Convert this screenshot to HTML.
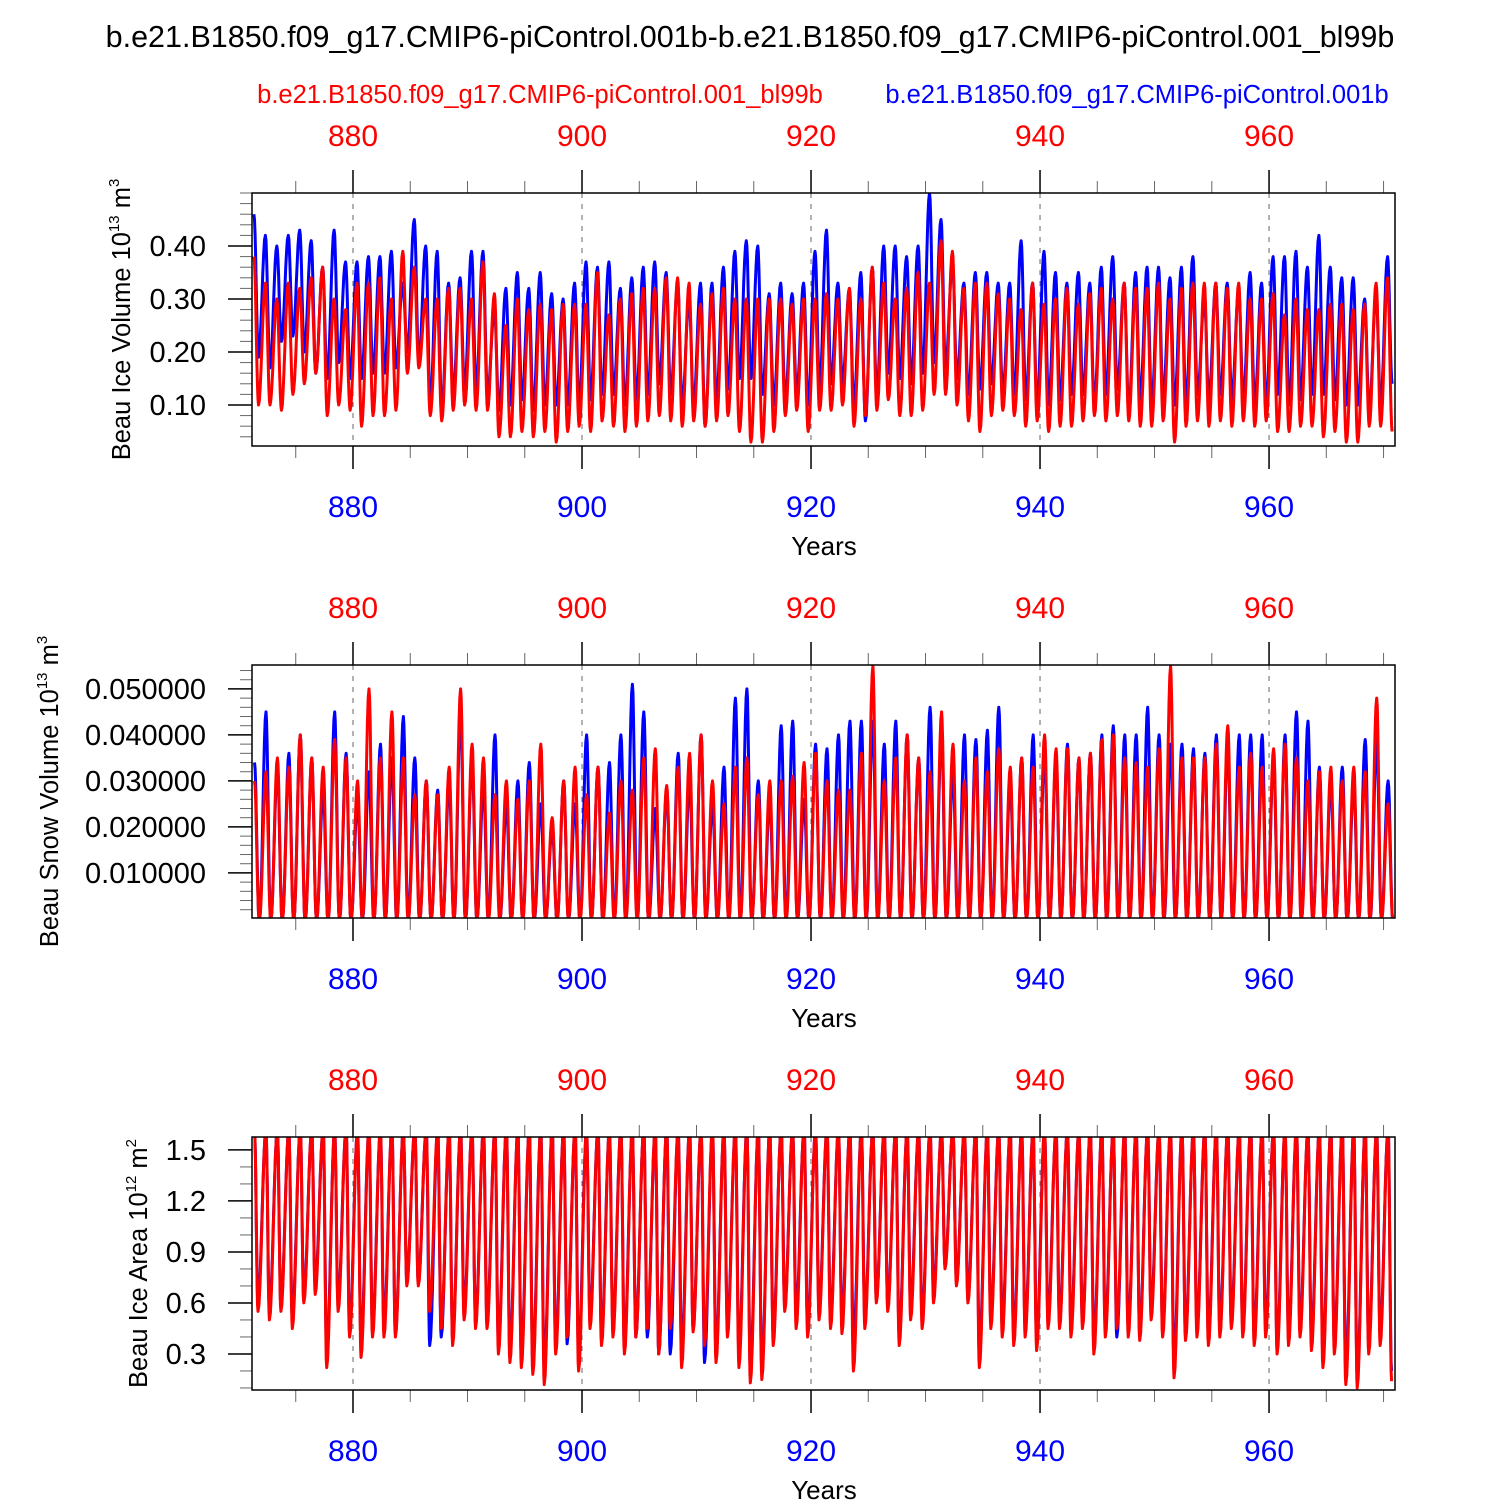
<!DOCTYPE html>
<html><head><meta charset="utf-8"><style>
body{margin:0;background:#fff}
svg{display:block;font-family:"Liberation Sans",sans-serif}
</style></head><body>
<svg id="chart" width="1500" height="1500" viewBox="0 0 1500 1500" xmlns="http://www.w3.org/2000/svg">
<rect width="1500" height="1500" fill="#fff"/>
<text x="750" y="47" font-size="30.5" text-anchor="middle">b.e21.B1850.f09_g17.CMIP6-piControl.001b-b.e21.B1850.f09_g17.CMIP6-piControl.001_bl99b</text>
<text x="540" y="103" font-size="25.5" text-anchor="middle" fill="#f00">b.e21.B1850.f09_g17.CMIP6-piControl.001_bl99b</text>
<text x="1137" y="103" font-size="25.5" text-anchor="middle" fill="#00f">b.e21.B1850.f09_g17.CMIP6-piControl.001b</text>
<g id="plots"></g>
</svg>
<script>
const years=[];for(let y=871;y<=970;y++)years.push(y);
const volBlueMax=[.46,.42,.40,.42,.43,.41,.36,.43,.37,.37,.38,.38,.39,.33,.45,.40,.39,.33,.34,.39,.39,.28,.32,.35,.32,.35,.31,.30,.33,.37,.36,.37,.32,.34,.36,.37,.35,.33,.30,.33,.33,.36,.39,.41,.40,.31,.33,.31,.33,.39,.43,.33,.32,.35,.36,.40,.40,.38,.40,.50,.45,.37,.33,.35,.35,.33,.33,.41,.33,.39,.35,.33,.35,.33,.36,.38,.33,.35,.36,.36,.34,.36,.38,.30,.33,.33,.32,.35,.33,.38,.38,.39,.36,.42,.36,.34,.34,.30,.31,.38];
const volBlueMin=[.19,.17,.22,.23,.20,.16,.15,.18,.15,.15,.16,.16,.17,.20,.18,.10,.09,.12,.13,.13,.12,.09,.10,.11,.09,.10,.10,.10,.10,.11,.12,.12,.10,.11,.12,.14,.12,.10,.10,.06,.11,.13,.15,.15,.12,.10,.11,.12,.10,.13,.14,.14,.10,.07,.12,.16,.15,.14,.16,.18,.17,.15,.12,.13,.14,.12,.12,.11,.10,.10,.11,.12,.12,.10,.12,.13,.09,.11,.10,.11,.10,.10,.12,.11,.12,.11,.11,.10,.10,.12,.10,.11,.12,.12,.11,.10,.10,.09,.10,.14];
const volRedMax=[.38,.33,.30,.33,.32,.34,.36,.30,.28,.33,.33,.34,.30,.39,.36,.30,.30,.32,.32,.30,.37,.31,.25,.30,.28,.29,.28,.29,.29,.29,.35,.27,.30,.31,.32,.32,.34,.34,.33,.29,.31,.32,.30,.30,.30,.30,.30,.29,.30,.30,.31,.30,.32,.30,.36,.33,.30,.32,.35,.33,.41,.39,.32,.33,.33,.31,.30,.28,.33,.29,.30,.32,.29,.31,.32,.30,.33,.32,.32,.33,.30,.32,.33,.33,.33,.32,.33,.30,.30,.31,.27,.30,.28,.28,.29,.29,.28,.29,.33,.34];
const volRedMin=[.10,.10,.09,.12,.14,.16,.08,.10,.09,.06,.08,.08,.09,.16,.17,.08,.07,.09,.10,.09,.09,.04,.04,.05,.04,.05,.03,.05,.06,.05,.07,.06,.05,.06,.07,.08,.07,.06,.07,.06,.07,.08,.05,.03,.03,.05,.08,.09,.05,.09,.09,.10,.06,.08,.09,.11,.08,.08,.09,.12,.12,.10,.07,.05,.08,.09,.08,.06,.07,.05,.06,.06,.07,.08,.07,.08,.07,.06,.06,.07,.03,.06,.07,.06,.07,.06,.07,.06,.07,.05,.05,.06,.06,.04,.05,.03,.03,.06,.06,.05];
const snowBlueMax=[.034,.045,.033,.036,.040,.035,.028,.045,.036,.026,.032,.038,.035,.044,.035,.030,.028,.030,.045,.035,.029,.040,.025,.030,.034,.025,.020,.030,.025,.040,.033,.034,.040,.051,.045,.024,.028,.036,.030,.040,.025,.033,.048,.050,.030,.026,.042,.043,.026,.038,.037,.040,.043,.043,.043,.038,.043,.040,.035,.046,.041,.032,.040,.039,.041,.046,.030,.035,.040,.036,.035,.038,.035,.036,.040,.042,.040,.040,.046,.040,.038,.038,.037,.036,.040,.038,.040,.040,.040,.035,.040,.045,.043,.033,.030,.033,.030,.039,.039,.030];
const snowRedMax=[.030,.032,.035,.033,.040,.035,.033,.039,.035,.030,.050,.035,.045,.035,.027,.030,.027,.033,.050,.038,.035,.027,.030,.026,.030,.038,.022,.030,.033,.027,.033,.023,.030,.028,.035,.037,.029,.033,.036,.040,.030,.025,.033,.035,.027,.030,.030,.031,.034,.036,.030,.028,.028,.036,.055,.030,.035,.040,.035,.032,.045,.038,.030,.035,.032,.037,.033,.035,.033,.040,.037,.037,.035,.036,.039,.040,.035,.034,.033,.037,.055,.035,.035,.035,.038,.042,.033,.036,.033,.037,.038,.035,.030,.032,.033,.030,.033,.032,.048,.025];
const areaRedMin=[.55,.50,.55,.45,.60,.65,.22,.55,.40,.28,.40,.40,.40,.70,.70,.55,.45,.35,.50,.45,.45,.30,.25,.22,.18,.12,.30,.40,.20,.45,.35,.40,.30,.40,.45,.30,.45,.22,.43,.35,.25,.40,.22,.13,.15,.35,.55,.45,.40,.50,.45,.42,.20,.45,.60,.55,.35,.50,.45,.60,.80,.70,.60,.22,.45,.40,.35,.40,.32,.45,.45,.40,.45,.30,.40,.45,.40,.38,.50,.40,.16,.38,.40,.35,.40,.45,.40,.35,.40,.30,.35,.40,.32,.22,.30,.12,.10,.30,.35,.14];
const areaBlueMin=[.60,.55,.58,.50,.62,.70,.30,.60,.45,.35,.45,.45,.42,.72,.72,.35,.40,.38,.55,.48,.50,.35,.30,.28,.25,.20,.35,.36,.30,.50,.40,.45,.35,.40,.40,.30,.30,.30,.45,.25,.30,.45,.30,.20,.20,.40,.58,.52,.45,.55,.50,.48,.35,.50,.62,.58,.40,.55,.50,.65,.82,.72,.62,.30,.50,.45,.40,.45,.38,.50,.50,.45,.48,.35,.45,.40,.45,.42,.55,.45,.25,.42,.45,.40,.45,.50,.45,.40,.45,.35,.40,.45,.38,.30,.35,.20,.15,.35,.40,.20];
const areaMax=1.62;
const xTicks=[880,900,920,940,960];

const NS="http://www.w3.org/2000/svg";
const root=document.getElementById('plots');
const X0=252,X1=1395,XMIN=871.18,XMAX=971.0;
const xs=v=>X0+(v-XMIN)/(XMAX-XMIN)*(X1-X0);
function el(tag,attrs,parent,txt){const e=document.createElementNS(NS,tag);for(const k in attrs)e.setAttribute(k,attrs[k]);if(txt!==undefined)e.textContent=txt;(parent||root).appendChild(e);return e;}

function series(keyfn){const kf=[];years.forEach((y,i)=>{keyfn(i).forEach(([p,v])=>kf.push([y+p,v]));});kf.sort((a,b)=>a[0]-b[0]);
  const pts=[];for(let k=0;k<kf.length-1;k++){const[t0,v0]=kf[k],[t1,v1]=kf[k+1];const n=8;for(let j=0;j<n;j++){const f=j/n;const e=(1-Math.cos(Math.PI*f))/2;pts.push([t0+(t1-t0)*f,v0+(v1-v0)*e]);}}
  pts.push(kf[kf.length-1]);return pts;}

const panels=[
 {top:193,bot:446,ymin:0.0226,ymax:0.5,major:[0.1,0.2,0.3,0.4],fmt:v=>v.toFixed(2),minorStep:0.02,label:'Beau Ice Volume 10',sup:'13',unit:' m',usup:'3',lx:130,name:'ice-volume',
  blue:i=>[[0.35,volBlueMax[i]],[0.75,volBlueMin[i]]],red:i=>[[0.35,volRedMax[i]],[0.75,volRedMin[i]]]},
 {top:665,bot:918,ymin:0.0002,ymax:0.0552,major:[0.01,0.02,0.03,0.04,0.05],fmt:v=>v.toFixed(6),minorStep:0.002,label:'Beau Snow Volume 10',sup:'13',unit:' m',usup:'3',lx:58,name:'snow-volume',
  blue:i=>[[0.4,snowBlueMax[i]],[0.8,0.0],[0.84,0.0]],red:i=>[[0.4,snowRedMax[i]],[0.8,0.0],[0.84,0.0]]},
 {top:1137,bot:1390,ymin:0.088,ymax:1.576,major:[0.3,0.6,0.9,1.2,1.5],fmt:v=>v.toFixed(1),minorStep:0.1,label:'Beau Ice Area 10',sup:'12',unit:' m',usup:'2',lx:147,name:'ice-area',
  blue:i=>[[0.4,areaMax],[0.7,areaBlueMin[i]]],red:i=>[[0.4,areaMax],[0.7,areaRedMin[i]]]}
];

panels.forEach((P,pi)=>{
  const g=el('g',{});
  
  
  const ys=v=>P.bot-(v-P.ymin)/(P.ymax-P.ymin)*(P.bot-P.top);
  const cp=el('clipPath',{id:'cp'+pi},g);el('rect',{x:X0,y:P.top,width:X1-X0,height:P.bot-P.top},cp);
  for(let yr=875;yr<=970;yr+=5){const x=xs(yr);const maj=yr%20===0;const L=maj?23:12;
    const t1=el('line',{x1:x,x2:x,y1:P.top-L,y2:P.top,stroke:'#000','stroke-width':maj?1.5:1,'stroke-opacity':maj?1:0.6},g);
    
    
    const t2=el('line',{x1:x,x2:x,y1:P.bot,y2:P.bot+L,stroke:'#000','stroke-width':maj?1.5:1,'stroke-opacity':maj?1:0.6},g);
    
    
  }
  xTicks.forEach(v=>{const x=xs(v);
    const gl=el('line',{x1:x,x2:x,y1:P.top,y2:P.bot,stroke:'#666','stroke-width':1,'stroke-dasharray':'5,6'},g);
    
    
    const tt=el('text',{x:x,y:P.top-47,'font-size':30,'text-anchor':'middle',fill:'#f00'},g,String(v));
    
    
    const bt=el('text',{x:x,y:P.bot+71,'font-size':30,'text-anchor':'middle',fill:'#00f'},g,String(v));
    
    
  });
  const xt=el('text',{x:824,y:P.bot+109,'font-size':26,'text-anchor':'middle'},g,'Years');
  
  
  for(let v=Math.ceil(P.ymin/P.minorStep-1e-6)*P.minorStep;v<=P.ymax+1e-9;v+=P.minorStep){const y=ys(v);
    const mt=el('line',{x1:X0-12,x2:X0,y1:y,y2:y,stroke:'#000','stroke-width':1,'stroke-opacity':0.6},g);
    
    }
  P.major.forEach(v=>{const y=ys(v);
    const t=el('line',{x1:X0-24,x2:X0,y1:y,y2:y,stroke:'#000','stroke-width':1.5},g);
    
    
    const l=el('text',{x:X0-46,y:y+10,'font-size':29,'text-anchor':'end'},g,P.fmt(v));
    
    
  });
  const cy=(P.top+P.bot)/2;
  const yl=el('text',{x:0,y:0,'font-size':25.5,'text-anchor':'middle',transform:`translate(${P.lx},${cy}) rotate(-90)`},g);
  
  
  el('tspan',{},yl,P.label);el('tspan',{'font-size':15,dy:-11},yl,P.sup);el('tspan',{dy:11},yl,P.unit);el('tspan',{'font-size':15,dy:-11},yl,P.usup);
  [['blue','#00f'],['red','#f00']].forEach(([k,c])=>{
    const pts=series(P[k]);
    const d=pts.map((p,j)=>(j?'L':'M')+xs(p[0]).toFixed(1)+','+ys(p[1]).toFixed(1)).join('');
    const path=el('path',{d:d,fill:'none',stroke:c,'stroke-width':3,'stroke-linejoin':'round','clip-path':`url(#cp${pi})`},g);
    
    
  });
  const fr=el('rect',{x:X0,y:P.top,width:X1-X0,height:P.bot-P.top,fill:'none',stroke:'#000','stroke-width':1.5},g);
  
  
});
</script>
</body></html>
